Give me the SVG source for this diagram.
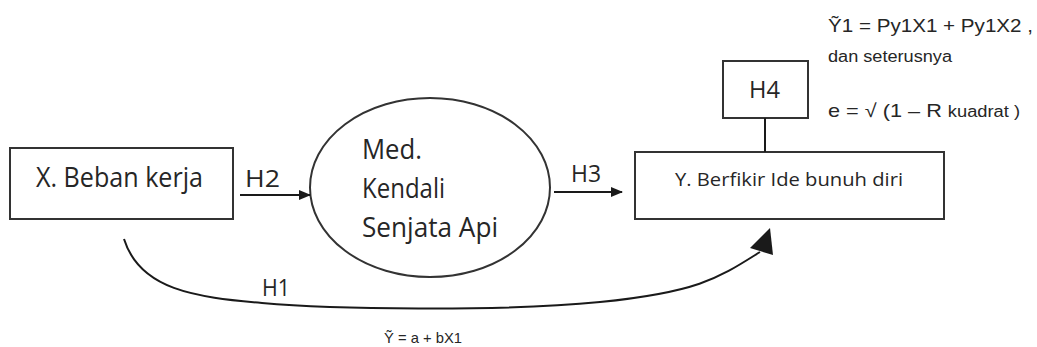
<svg xmlns="http://www.w3.org/2000/svg" width="1037" height="347" viewBox="0 0 1037 347">
  <style>
    .box { fill: #ffffff; stroke: #333333; stroke-width: 2; }
    .lbl { font-family: "Open Sans", "Noto Sans", sans-serif; fill: #262626; }
    .eq { font-family: "Liberation Sans", Arial, sans-serif; fill: #262626; }
    .conn { fill: none; stroke: #1a1a1a; stroke-width: 2; }
  </style>
  <defs>
    <marker id="arr" markerWidth="12" markerHeight="10" refX="11" refY="5" orient="auto" markerUnits="userSpaceOnUse">
      <path d="M0,0 L12,5 L0,10 Z" fill="#1a1a1a"/>
    </marker>
  </defs>
  <rect width="1037" height="347" fill="#ffffff"/>

  <g id="node-x">
    <rect class="box" x="10" y="148" width="223" height="71"/>
    <text class="lbl" x="36" y="187" font-size="27" textLength="167" lengthAdjust="spacingAndGlyphs">X. Beban kerja</text>
  </g>

  <g id="node-med">
    <ellipse class="box" cx="430" cy="187.5" rx="120" ry="89.5"/>
    <text class="lbl" x="362" y="159" font-size="27" textLength="60" lengthAdjust="spacingAndGlyphs">Med.</text>
    <text class="lbl" x="362" y="198" font-size="27" textLength="83" lengthAdjust="spacingAndGlyphs">Kendali</text>
    <text class="lbl" x="362" y="237" font-size="27" textLength="136" lengthAdjust="spacingAndGlyphs">Senjata Api</text>
  </g>

  <g id="node-y">
    <rect class="box" x="635" y="152" width="309" height="67"/>
    <text class="lbl" x="675" y="186" font-size="19" textLength="228" lengthAdjust="spacingAndGlyphs">Y. Berfikir Ide bunuh diri</text>
  </g>

  <g id="node-h4">
    <rect class="box" x="723" y="61" width="85" height="57"/>
    <text class="lbl" x="749" y="98" font-size="23" textLength="31" lengthAdjust="spacingAndGlyphs">H4</text>
  </g>

  <g id="connectors">
    <line class="conn" x1="240" y1="195" x2="310" y2="195" marker-end="url(#arr)"/>
    <line class="conn" x1="554" y1="192" x2="622" y2="192" marker-end="url(#arr)"/>
    <line class="conn" x1="765" y1="118" x2="765" y2="152" stroke-width="1.5"/>
    <path class="conn" d="M124,239 C140,290 195,297 262,303 S500,312 600,302 S720,277 760,252"/>
    <polygon points="770,228 750,248 773,255" fill="#1a1a1a"/>
    <text class="lbl" x="245" y="187" font-size="23" textLength="35" lengthAdjust="spacingAndGlyphs">H2</text>
    <text class="lbl" x="571" y="182" font-size="23" textLength="30" lengthAdjust="spacingAndGlyphs">H3</text>
    <text class="lbl" x="262" y="296" font-size="23" textLength="28" lengthAdjust="spacingAndGlyphs">H1</text>
  </g>

  <g id="equations">
    <text class="eq" x="828" y="32" font-size="19" textLength="205" lengthAdjust="spacingAndGlyphs">Ỹ1 = Py1X1 + Py1X2 ,</text>
    <text class="eq" x="828" y="62" font-size="16" textLength="124" lengthAdjust="spacingAndGlyphs">dan seterusnya</text>
    <text class="eq" x="828" y="117" font-size="19" textLength="192" lengthAdjust="spacingAndGlyphs">e = √ (1 – R <tspan font-size="16">kuadrat )</tspan></text>
    <text class="eq" x="384" y="343" font-size="15" textLength="78" lengthAdjust="spacingAndGlyphs">Ỹ = a + bX1</text>
  </g>
</svg>
